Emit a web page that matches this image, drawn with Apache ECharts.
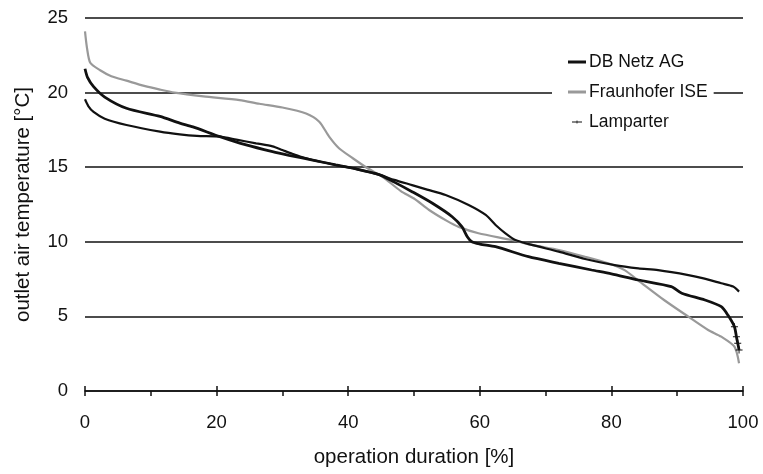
<!DOCTYPE html>
<html><head><meta charset="utf-8">
<script src="https://cdn.jsdelivr.net/npm/echarts@6/dist/echarts.min.js"></script>
<style>html,body{margin:0;padding:0;background:#fff}#c{width:763px;height:474px}</style>
</head><body><div id="c"></div>
<script>
const seriesNames = ['DB Netz AG', 'Fraunhofer ISE', 'Lamparter'];
const xTicks = [0, 20, 40, 60, 80, 100];
const yTicks = [0, 5, 10, 15, 20, 25];

const dbX = [0, 0.5, 1.3, 3, 6.3, 11.4, 14.4, 17, 20.5, 23, 26, 28.5, 30, 31.5, 32.8, 34.6, 38.1, 41, 44.7, 47, 49.7, 52, 54.8, 58.3, 60.9, 62.4, 63.9, 65.4, 67.9, 72, 76, 80.5, 84.1, 87.1, 91.7, 94, 96.7, 98.5, 99.4];
const dbY = [19.55, 19.1, 18.7, 18.25, 17.83, 17.38, 17.2, 17.1, 17.05, 16.85, 16.6, 16.4, 16.15, 15.9, 15.7, 15.48, 15.15, 14.9, 14.5, 14.15, 13.8, 13.5, 13.14, 12.47, 11.8, 11.13, 10.57, 10.12, 9.79, 9.34, 8.85, 8.44, 8.22, 8.1, 7.77, 7.55, 7.22, 7.0, 6.66];

const isX = [0, 0.3, 0.8, 2.3, 4, 6.3, 9, 11.4, 13.6, 18, 23.5, 26.5, 30, 33.6, 35.6, 37.1, 38.6, 40.7, 42.7, 45.2, 48, 50, 52.3, 55, 56.8, 59.8, 64.9, 67.9, 72, 76, 79.5, 82, 84.1, 88, 91.7, 94.7, 96.7, 98.7, 99.4];
const isY = [24.1, 23.0, 22.0, 21.5, 21.1, 20.8, 20.45, 20.2, 20.0, 19.75, 19.5, 19.25, 19.0, 18.6, 18.05, 17.05, 16.27, 15.6, 15.0, 14.36, 13.4, 12.9, 12.13, 11.4, 11.0, 10.57, 10.12, 9.79, 9.45, 9.0, 8.56, 8.1, 7.4, 6.1, 4.98, 4.09, 3.64, 2.97, 1.86];

const lpX = [0, 0.4, 1.3, 3, 6.3, 11.4, 14.4, 16.4, 20.5, 24.5, 28.5, 31, 34.6, 38.1, 41, 44.7, 47, 49.7, 52.8, 55.8, 57.3, 58.1, 58.8, 60, 62.4, 67.4, 72, 77, 80, 84.1, 89.1, 90.7, 94.2, 96.7, 97.7, 98.7, 99, 99.2, 99.4];
const lpY = [21.6, 21.0, 20.4, 19.7, 18.95, 18.4, 17.95, 17.7, 17.05, 16.49, 16.04, 15.8, 15.48, 15.15, 14.9, 14.5, 14.0, 13.36, 12.58, 11.68, 11.0, 10.34, 10.0, 9.85, 9.67, 9.0, 8.56, 8.11, 7.85, 7.44, 7.0, 6.55, 6.1, 5.65, 5.09, 4.31, 3.64, 3.2, 2.75];
const lpMarked = 4; // last points drawn with small "+" markers, as at the curve's end

const zip = (xs, ys) => xs.map((x, i) => [x, ys[i]]);
const font = 'Liberation Sans, Arial, sans-serif';
const plusIcon = 'path://M0,4.3h10v1.4h-10z M4.3,0h1.4v10h-1.4z';

const lpData = zip(lpX, lpY).map((p, i, arr) => i >= arr.length - lpMarked
  ? {value: p, symbol: plusIcon, symbolSize: 7}
  : {value: p, symbol: 'none'});

const chart = echarts.init(document.getElementById('c'), null, {renderer: 'canvas'});
chart.setOption({
  animation: false,
  backgroundColor: '#fff',
  grid: {left: 85, right: 20, top: 18, bottom: 83, containLabel: false},
  legend: {
    orient: 'vertical', left: 552, top: 47, width: 161,
    backgroundColor: '#fff', padding: [6, 6, 6, 16], itemGap: 12,
    itemWidth: 18, itemHeight: 3,
    textStyle: {fontFamily: font, fontSize: 17.5, color: '#111', padding: [0, 0, 0, -2]},
    data: [
      {name: seriesNames[0], icon: 'rect'},
      {name: seriesNames[1], icon: 'rect'},
      {name: seriesNames[2], icon: 'path://M0,4.2h20v1.6h-20z M9.2,2h1.6v6h-1.6z'}
    ]
  },
  xAxis: [{
    type: 'value', min: 0, max: 100, interval: 20,
    name: 'operation duration [%]', nameLocation: 'middle', nameGap: 56,
    nameTextStyle: {fontFamily: font, fontSize: 20.5, color: '#111'},
    axisLine: {show: true, lineStyle: {color: '#111', width: 1.5}},
    axisTick: {show: true, length: 5, lineStyle: {color: '#111', width: 1.5}},
    minorTick: {show: true, splitNumber: 2, length: 5, lineStyle: {color: '#111', width: 1.5}},
    axisLabel: {fontFamily: font, fontSize: 18.5, color: '#111', margin: 22,
      formatter: v => xTicks.includes(v) ? String(v) : ''},
    splitLine: {show: false}
  }, {
    type: 'value', min: 0, max: 100, interval: 20, position: 'bottom',
    axisLine: {show: false},
    axisTick: {show: true, inside: true, length: 5, lineStyle: {color: '#111', width: 1.5}},
    axisLabel: {show: false}, splitLine: {show: false}
  }],
  yAxis: {
    type: 'value', min: 0, max: 25, interval: 5,
    name: 'outlet air temperature [°C]', nameLocation: 'middle', nameGap: 51,
    nameTextStyle: {fontFamily: font, fontSize: 20.5, color: '#111'},
    axisLine: {show: false}, axisTick: {show: false},
    axisLabel: {fontFamily: font, fontSize: 18.5, color: '#111', margin: 17,
      formatter: v => yTicks.includes(v) ? String(v) : ''},
    splitLine: {show: true, lineStyle: {color: '#111', width: 1.5}}
  },
  series: [
    {name: seriesNames[0], type: 'line', data: zip(dbX, dbY), showSymbol: false, symbol: 'none',
      smooth: 0.25, lineStyle: {color: '#111', width: 2.2}, itemStyle: {color: '#111'}, z: 3},
    {name: seriesNames[1], type: 'line', data: zip(isX, isY), showSymbol: false, symbol: 'none',
      smooth: 0.25, lineStyle: {color: '#999', width: 2.2}, itemStyle: {color: '#999'}, z: 2},
    {name: seriesNames[2], type: 'line', data: lpData, showSymbol: true, showAllSymbol: true,
      smooth: 0.25, lineStyle: {color: '#111', width: 2.8}, itemStyle: {color: '#111'}, z: 4}
  ]
});
</script></body></html>
